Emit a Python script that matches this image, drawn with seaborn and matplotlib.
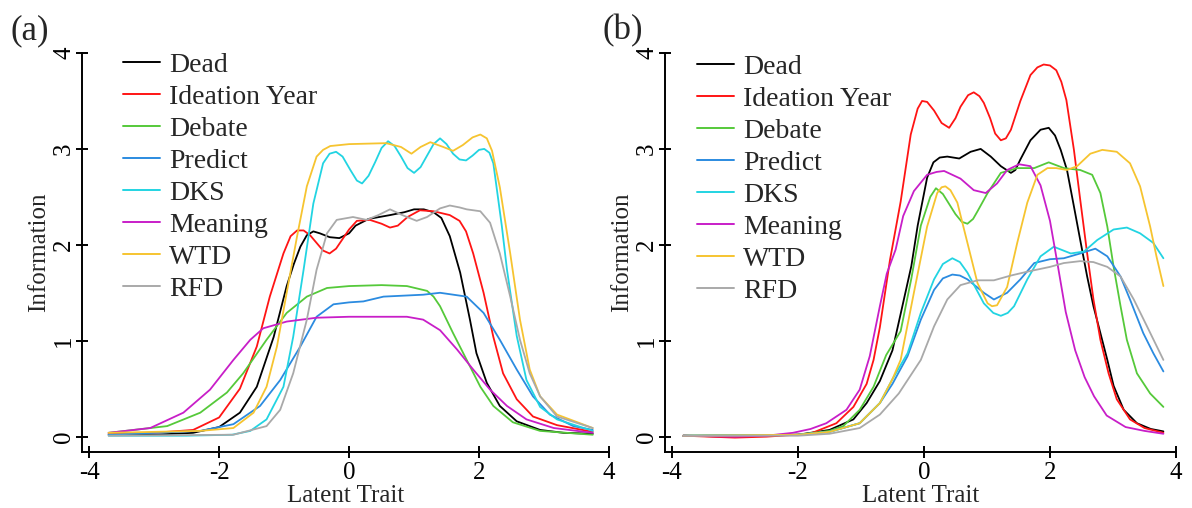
import matplotlib
matplotlib.use("Agg")
import matplotlib.pyplot as plt
import seaborn as sns
import pandas as pd

# ---------------- data ----------------
SERIES = ["Dead", "Ideation Year", "Debate", "Predict", "DKS", "Meaning", "WTD", "RFD"]
COLORS = ["#000000", "#ff1414", "#55c93a", "#2b8be0", "#22d4e2", "#c81ec8", "#f6c430", "#a9a9a9"]

# Panel (a)
A_DEAD_X = [-3.7, -3.0, -2.4, -2.0, -1.68, -1.42, -1.16, -0.96, -0.85, -0.75, -0.65, -0.55, -0.45, -0.3, -0.15, 0.0, 0.1, 0.3, 0.63, 0.85, 1.0, 1.15, 1.3, 1.42, 1.55, 1.71, 1.86, 1.96, 2.12, 2.32, 2.58, 2.94, 3.3, 3.75]
A_DEAD_Y = [0.02, 0.02, 0.04, 0.10, 0.25, 0.52, 1.04, 1.57, 1.80, 1.98, 2.10, 2.14, 2.12, 2.08, 2.07, 2.12, 2.20, 2.27, 2.31, 2.34, 2.37, 2.37, 2.34, 2.28, 2.09, 1.71, 1.22, 0.87, 0.56, 0.32, 0.16, 0.07, 0.04, 0.03]
A_IDEA_X = [-3.7, -3.0, -2.4, -2.0, -1.68, -1.42, -1.22, -1.01, -0.9, -0.8, -0.7, -0.6, -0.5, -0.4, -0.3, -0.2, -0.1, 0.0, 0.12, 0.32, 0.5, 0.63, 0.75, 0.9, 1.09, 1.3, 1.55, 1.7, 1.8, 1.91, 2.07, 2.22, 2.37, 2.58, 2.83, 3.2, 3.75]
A_IDEA_Y = [0.03, 0.04, 0.07, 0.20, 0.50, 0.94, 1.46, 1.91, 2.09, 2.15, 2.15, 2.10, 2.02, 1.94, 1.91, 1.96, 2.06, 2.16, 2.25, 2.26, 2.22, 2.18, 2.20, 2.29, 2.36, 2.35, 2.31, 2.25, 2.14, 1.91, 1.50, 1.04, 0.66, 0.39, 0.21, 0.12, 0.05]
A_DEBA_X = [-3.7, -2.8, -2.29, -1.88, -1.63, -1.27, -0.96, -0.65, -0.34, 0.0, 0.5, 0.89, 1.2, 1.3, 1.4, 1.6, 1.81, 2.02, 2.22, 2.52, 2.94, 3.75]
A_DEBA_Y = [0.04, 0.11, 0.25, 0.46, 0.66, 1.01, 1.29, 1.46, 1.55, 1.57, 1.58, 1.57, 1.52, 1.46, 1.36, 1.08, 0.80, 0.52, 0.32, 0.15, 0.06, 0.02]
A_PRED_X = [-3.7, -2.29, -1.78, -1.37, -1.06, -0.75, -0.5, -0.24, 0.0, 0.22, 0.53, 1.14, 1.4, 1.81, 2.07, 2.32, 2.58, 2.83, 3.09, 3.45, 3.75]
A_PRED_Y = [0.02, 0.06, 0.13, 0.32, 0.59, 0.94, 1.25, 1.38, 1.40, 1.41, 1.46, 1.48, 1.50, 1.46, 1.29, 1.01, 0.70, 0.42, 0.23, 0.11, 0.07]
A_DKS_X = [-3.7, -2.5, -1.8, -1.52, -1.27, -1.01, -0.86, -0.7, -0.55, -0.4, -0.3, -0.2, -0.1, 0.02, 0.12, 0.2, 0.3, 0.4, 0.5, 0.6, 0.7, 0.8, 0.9, 1.0, 1.1, 1.2, 1.3, 1.4, 1.5, 1.6, 1.7, 1.8, 1.9, 2.0, 2.08, 2.16, 2.22, 2.27, 2.35, 2.43, 2.58, 2.73, 2.94, 3.2, 3.75]
A_DKS_Y = [0.01, 0.01, 0.02, 0.06, 0.18, 0.52, 1.04, 1.74, 2.43, 2.85, 2.95, 2.97, 2.92, 2.78, 2.67, 2.64, 2.72, 2.86, 3.01, 3.08, 3.03, 2.92, 2.80, 2.75, 2.81, 2.93, 3.05, 3.11, 3.05, 2.95, 2.89, 2.88, 2.93, 2.99, 3.00, 2.96, 2.85, 2.60, 2.20, 1.74, 1.05, 0.59, 0.31, 0.18, 0.06]
A_MEAN_X = [-3.7, -3.06, -2.55, -2.14, -1.78, -1.52, -1.32, -0.96, -0.5, 0.0, 0.89, 1.14, 1.4, 1.66, 1.91, 2.17, 2.43, 2.73, 3.15, 3.75]
A_MEAN_Y = [0.04, 0.09, 0.25, 0.49, 0.80, 1.01, 1.13, 1.20, 1.24, 1.25, 1.25, 1.22, 1.11, 0.91, 0.70, 0.49, 0.32, 0.18, 0.09, 0.04]
A_WTD_X = [-3.7, -2.29, -1.78, -1.47, -1.27, -1.11, -0.96, -0.8, -0.65, -0.5, -0.4, -0.29, 0.0, 0.57, 0.8, 0.96, 1.1, 1.25, 1.45, 1.6, 1.75, 1.9, 2.02, 2.12, 2.2, 2.32, 2.48, 2.63, 2.78, 2.94, 3.2, 3.75]
A_WTD_Y = [0.04, 0.06, 0.09, 0.25, 0.52, 0.94, 1.50, 2.09, 2.61, 2.92, 2.99, 3.03, 3.05, 3.06, 3.02, 2.95, 3.02, 3.07, 3.02, 2.98, 3.04, 3.12, 3.15, 3.11, 2.98, 2.60, 1.91, 1.22, 0.70, 0.42, 0.23, 0.09]
A_RFD_X = [-3.7, -1.78, -1.27, -1.06, -0.86, -0.65, -0.5, -0.34, -0.19, 0.06, 0.27, 0.45, 0.63, 0.82, 1.04, 1.2, 1.4, 1.55, 1.7, 1.81, 2.02, 2.17, 2.32, 2.48, 2.63, 2.78, 2.94, 3.2, 3.75]
A_RFD_Y = [0.01, 0.02, 0.11, 0.28, 0.66, 1.22, 1.74, 2.12, 2.26, 2.29, 2.26, 2.31, 2.37, 2.31, 2.25, 2.29, 2.38, 2.41, 2.39, 2.37, 2.35, 2.23, 1.91, 1.46, 1.01, 0.66, 0.42, 0.21, 0.09]

# Panel (b)
B_DEAD_X = [-3.82, -3.0, -2.0, -1.5, -1.12, -0.91, -0.7, -0.5, -0.37, -0.2, -0.1, 0.05, 0.15, 0.25, 0.37, 0.56, 0.74, 0.9, 1.06, 1.22, 1.38, 1.45, 1.53, 1.69, 1.85, 1.98, 2.08, 2.17, 2.27, 2.38, 2.48, 2.59, 2.69, 2.8, 2.91, 3.01, 3.17, 3.38, 3.6, 3.8]
B_DEAD_Y = [0.01, 0.0, 0.02, 0.07, 0.18, 0.35, 0.58, 0.90, 1.28, 1.78, 2.20, 2.70, 2.86, 2.91, 2.92, 2.90, 2.97, 3.00, 2.92, 2.82, 2.75, 2.78, 2.89, 3.09, 3.20, 3.22, 3.14, 2.99, 2.78, 2.40, 2.05, 1.67, 1.36, 1.08, 0.80, 0.53, 0.28, 0.14, 0.08, 0.055]
B_IDEA_X = [-3.82, -3.0, -2.5, -1.81, -1.39, -1.12, -0.91, -0.8, -0.7, -0.54, -0.37, -0.21, -0.1, -0.03, 0.05, 0.16, 0.28, 0.4, 0.5, 0.58, 0.7, 0.79, 0.88, 0.95, 1.05, 1.13, 1.22, 1.3, 1.38, 1.53, 1.69, 1.8, 1.9, 2.0, 2.1, 2.18, 2.26, 2.38, 2.48, 2.59, 2.69, 2.8, 2.93, 3.06, 3.27, 3.5, 3.8]
B_IDEA_Y = [0.01, -0.01, 0.0, 0.03, 0.14, 0.31, 0.55, 0.80, 1.14, 1.84, 2.45, 3.15, 3.42, 3.50, 3.49, 3.40, 3.27, 3.22, 3.32, 3.44, 3.56, 3.59, 3.55, 3.48, 3.32, 3.16, 3.09, 3.11, 3.20, 3.50, 3.77, 3.85, 3.88, 3.87, 3.82, 3.70, 3.51, 2.99, 2.47, 1.91, 1.43, 1.01, 0.66, 0.39, 0.18, 0.09, 0.04]
B_DEBA_X = [-3.82, -2.0, -1.5, -1.28, -1.02, -0.8, -0.6, -0.37, -0.2, -0.05, 0.1, 0.19, 0.3, 0.5, 0.6, 0.69, 0.78, 0.85, 1.01, 1.22, 1.48, 1.75, 1.98, 2.22, 2.48, 2.67, 2.8, 2.91, 3.01, 3.12, 3.22, 3.38, 3.59, 3.8]
B_DEBA_Y = [0.01, 0.02, 0.06, 0.11, 0.28, 0.52, 0.85, 1.10, 1.65, 2.20, 2.50, 2.59, 2.53, 2.32, 2.24, 2.22, 2.27, 2.35, 2.54, 2.75, 2.80, 2.80, 2.86, 2.80, 2.78, 2.73, 2.54, 2.19, 1.77, 1.36, 1.01, 0.66, 0.45, 0.31]
B_PRED_X = [-3.82, -2.0, -1.5, -1.02, -0.7, -0.5, -0.26, -0.05, 0.16, 0.3, 0.45, 0.57, 0.69, 0.95, 1.11, 1.32, 1.53, 1.75, 2.0, 2.22, 2.48, 2.72, 2.91, 3.12, 3.27, 3.48, 3.64, 3.8]
B_PRED_Y = [0.01, 0.02, 0.05, 0.14, 0.35, 0.55, 0.84, 1.22, 1.53, 1.65, 1.69, 1.68, 1.64, 1.50, 1.43, 1.50, 1.64, 1.81, 1.85, 1.86, 1.91, 1.96, 1.88, 1.67, 1.43, 1.08, 0.87, 0.68]
B_DKS_X = [-3.82, -2.0, -1.5, -1.02, -0.7, -0.5, -0.26, -0.05, 0.16, 0.3, 0.45, 0.57, 0.69, 0.95, 1.1, 1.22, 1.33, 1.43, 1.64, 1.85, 2.06, 2.33, 2.54, 2.75, 3.01, 3.22, 3.43, 3.64, 3.8]
B_DKS_Y = [0.01, 0.02, 0.05, 0.14, 0.35, 0.60, 0.87, 1.29, 1.64, 1.80, 1.86, 1.82, 1.71, 1.39, 1.29, 1.26, 1.29, 1.36, 1.64, 1.88, 1.98, 1.91, 1.93, 2.05, 2.16, 2.18, 2.12, 2.02, 1.86]
B_MEAN_X = [-3.82, -3.0, -2.5, -2.08, -1.8, -1.55, -1.23, -1.02, -0.86, -0.7, -0.59, -0.45, -0.33, -0.16, 0.05, 0.2, 0.32, 0.58, 0.79, 0.98, 1.16, 1.32, 1.51, 1.69, 1.85, 2.0, 2.12, 2.25, 2.4, 2.55, 2.7, 2.9, 3.2, 3.5, 3.8]
B_MEAN_Y = [0.01, 0.0, 0.01, 0.04, 0.08, 0.14, 0.28, 0.49, 0.84, 1.36, 1.70, 1.95, 2.30, 2.56, 2.73, 2.76, 2.77, 2.69, 2.57, 2.54, 2.64, 2.78, 2.84, 2.82, 2.62, 2.25, 1.80, 1.30, 0.90, 0.62, 0.42, 0.22, 0.10, 0.06, 0.03]
B_WTD_X = [-3.82, -2.0, -1.5, -1.02, -0.7, -0.5, -0.37, -0.16, 0.05, 0.21, 0.28, 0.34, 0.42, 0.53, 0.69, 0.85, 1.01, 1.08, 1.16, 1.32, 1.48, 1.64, 1.8, 1.96, 2.1, 2.27, 2.43, 2.64, 2.83, 3.06, 3.27, 3.43, 3.59, 3.69, 3.8]
B_WTD_Y = [0.01, 0.02, 0.05, 0.14, 0.35, 0.60, 0.80, 1.50, 2.19, 2.54, 2.60, 2.61, 2.57, 2.44, 2.02, 1.60, 1.39, 1.36, 1.37, 1.56, 2.02, 2.44, 2.73, 2.80, 2.80, 2.78, 2.82, 2.95, 2.99, 2.97, 2.85, 2.61, 2.19, 1.88, 1.57]
B_RFD_X = [-3.82, -2.0, -1.5, -1.02, -0.7, -0.4, -0.2, -0.05, 0.16, 0.37, 0.58, 0.85, 1.11, 1.38, 1.64, 2.0, 2.22, 2.48, 2.69, 2.91, 3.12, 3.33, 3.54, 3.8]
B_RFD_Y = [0.01, 0.01, 0.03, 0.09, 0.23, 0.45, 0.65, 0.80, 1.15, 1.43, 1.58, 1.63, 1.63, 1.68, 1.72, 1.77, 1.81, 1.83, 1.82, 1.77, 1.67, 1.43, 1.15, 0.80]

X_TICKS = [-4, -2, 0, 2, 4]
Y_TICKS = [0, 1, 2, 3, 4]
PANEL_LABELS = ["(a)", "(b)"]
X_LABEL = "Latent Trait"
Y_LABEL = "Information"

PANEL_A = [(A_DEAD_X, A_DEAD_Y), (A_IDEA_X, A_IDEA_Y), (A_DEBA_X, A_DEBA_Y), (A_PRED_X, A_PRED_Y),
           (A_DKS_X, A_DKS_Y), (A_MEAN_X, A_MEAN_Y), (A_WTD_X, A_WTD_Y), (A_RFD_X, A_RFD_Y)]
PANEL_B = [(B_DEAD_X, B_DEAD_Y), (B_IDEA_X, B_IDEA_Y), (B_DEBA_X, B_DEBA_Y), (B_PRED_X, B_PRED_Y),
           (B_DKS_X, B_DKS_Y), (B_MEAN_X, B_MEAN_Y), (B_WTD_X, B_WTD_Y), (B_RFD_X, B_RFD_Y)]


def frame(panel):
    rows = []
    for name, (xs, ys) in zip(SERIES, panel):
        for x, y in zip(xs, ys):
            rows.append({"theta": x, "info": y, "item": name})
    return pd.DataFrame(rows)


# ---------------- style ----------------
sns.set_style("ticks")
plt.rcParams["font.family"] = ["Liberation Serif", "DejaVu Serif"]
plt.rcParams["axes.unicode_minus"] = False

W, H = 1192, 508
fig = plt.figure(figsize=(W / 100, H / 100), dpi=100)

# axes placement (pixels): spine left, right end, top (y=4), bottom (x-axis)
layouts = [(82, 609), (665, 1176)]
top_px, bot_px = 53, 452
legend_anchor = [((123 - 82) / (609 - 82), 1.001), ((697 - 665) / (1176 - 665), 0.996)]
label_pos = [(11, 14), (602, 14)]

palette = dict(zip(SERIES, COLORS))

for i, panel in enumerate([PANEL_A, PANEL_B]):
    l, r = layouts[i]
    ax = fig.add_axes([l / W, 1 - bot_px / H, (r - l) / W, (bot_px - top_px) / H])
    df = frame(panel)
    sns.lineplot(data=df, x="theta", y="info", hue="item", hue_order=SERIES,
                 palette=palette, estimator=None, sort=True, linewidth=1.3, ax=ax)
    ax.set_xlim(-4.11, 4.0)
    ax.set_ylim(-0.16, 4.0)
    ax.set_xticks(X_TICKS)
    ax.set_yticks(Y_TICKS)
    ax.set_xticklabels([str(t) for t in X_TICKS])
    ax.set_yticklabels([str(t) for t in Y_TICKS], rotation=90, va="center")
    for s in ["top", "right"]:
        ax.spines[s].set_visible(False)
    for s in ["left", "bottom"]:
        ax.spines[s].set_linewidth(1.4)
        ax.spines[s].set_color("black")
    ax.tick_params(axis="both", direction="inout", length=8, width=1.4, labelsize=18, colors="black")
    ax.tick_params(axis="x", pad=3)
    ax.tick_params(axis="y", pad=1)
    ax.set_xlabel(X_LABEL, fontsize=18, labelpad=1)
    ax.set_ylabel(Y_LABEL, fontsize=18, labelpad=2)

    handles, labels = ax.get_legend_handles_labels()
    for h in handles:
        h.set_linewidth(1.4)
    ax.legend(handles, labels, loc="upper left", bbox_to_anchor=legend_anchor[i],
              frameon=False, fontsize=20, handlelength=1.33, handletextpad=0.32,
              labelspacing=0.234, borderpad=0.0, borderaxespad=0.0)

    fig.text(label_pos[i][0] / W, 1 - label_pos[i][1] / H, PANEL_LABELS[i],
             fontsize=25, ha="left", va="top")

fig.savefig("out.png", dpi=100)
